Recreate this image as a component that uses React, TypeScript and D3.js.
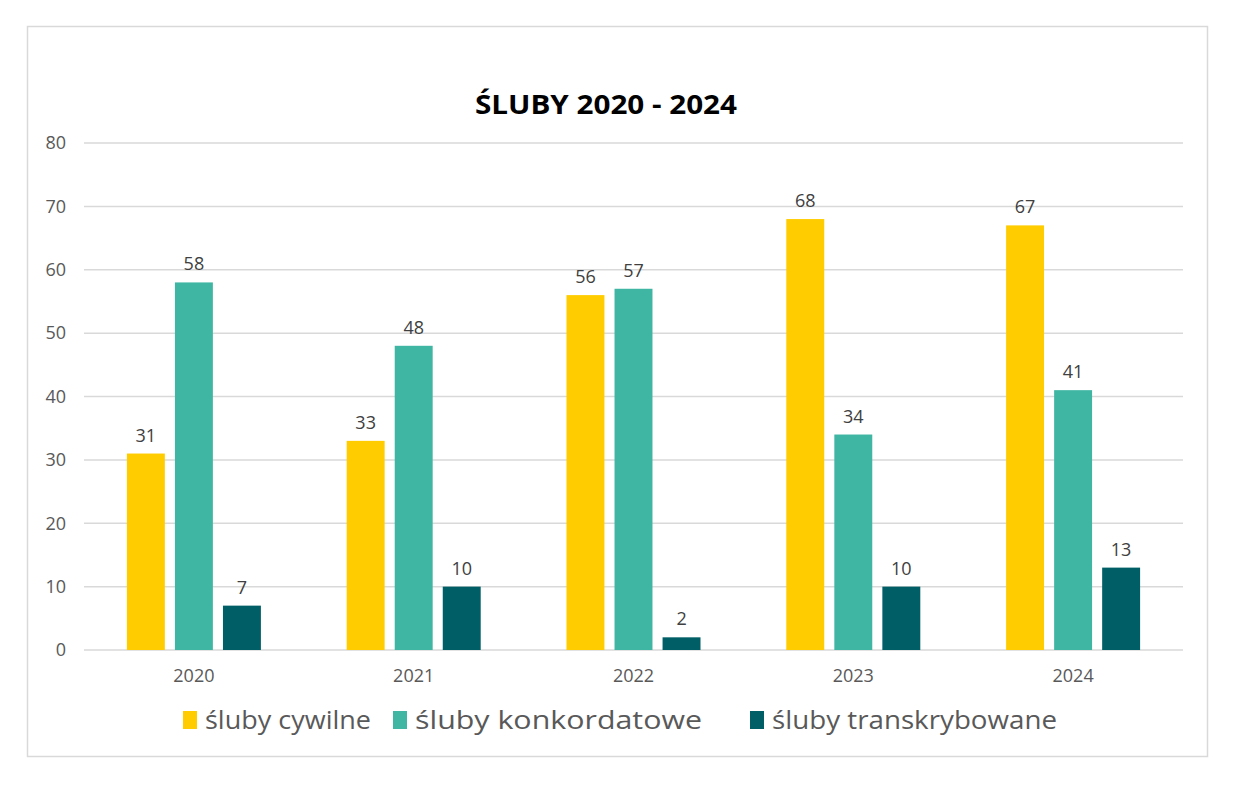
import * as d3 from "d3";
import { useEffect, useRef } from "react";

const years = ["2020", "2021", "2022", "2023", "2024"];
const seriesNames = ["śluby cywilne", "śluby konkordatowe", "śluby transkrybowane"];
const cywilne = [31, 33, 56, 68, 67];
const konkordatowe = [58, 48, 57, 34, 41];
const transkrybowane = [7, 10, 2, 10, 13];
const yTicks = [0, 10, 20, 30, 40, 50, 60, 70, 80];
const colors = ["#FFCC00", "#3FB6A3", "#005F66"];

export default function App() {
  const ref = useRef<SVGSVGElement>(null);

  useEffect(() => {
    if (!ref.current) return;
    const svg = d3.select(ref.current);
    svg.selectAll("*").remove();

    const width = 1236;
    const height = 786;
    const margin = { top: 143, right: 53, bottom: 136, left: 84 };
    const innerW = width - margin.left - margin.right;
    const innerH = height - margin.top - margin.bottom;
    const font = "'Open Sans', Lato, sans-serif";

    svg.attr("width", width).attr("height", height);

    // frame
    svg
      .append("rect")
      .attr("x", 27.5)
      .attr("y", 26.5)
      .attr("width", 1180)
      .attr("height", 730)
      .attr("fill", "#fff")
      .attr("stroke", "#d9d9d9")
      .attr("stroke-width", 1.5);

    svg
      .append("text")
      .attr("x", 606)
      .attr("y", 114)
      .attr("text-anchor", "middle")
      .attr("textLength", 262)
      .attr("lengthAdjust", "spacingAndGlyphs")
      .style("font-family", font)
      .style("font-weight", 700)
      .style("font-size", "27px")
      .attr("fill", "#000")
      .text("ŚLUBY 2020 - 2024");

    const g = svg.append("g").attr("transform", `translate(${margin.left},${margin.top})`);

    const x = d3.scaleBand().domain(years).range([0, innerW]).padding(0);
    const y = d3.scaleLinear().domain([0, 80]).range([innerH, 0]);
    const x1 = d3
      .scaleBand()
      .domain(seriesNames)
      .range([0, 134])
      .paddingInner(0.21);

    // grid
    g.selectAll("line.grid")
      .data(yTicks)
      .join("line")
      .attr("class", "grid")
      .attr("x1", 0)
      .attr("x2", innerW)
      .attr("y1", (d) => y(d))
      .attr("y2", (d) => y(d))
      .attr("stroke", "#d9d9d9")
      .attr("stroke-width", 1.5);

    g.selectAll("text.ytick")
      .data(yTicks)
      .join("text")
      .attr("class", "ytick")
      .attr("x", -18)
      .attr("y", (d) => y(d))
      .attr("dy", "0.35em")
      .attr("text-anchor", "end")
      .style("font-family", font)
      .style("font-size", "18px")
      .attr("fill", "#595959")
      .text((d) => d);

    const series = [cywilne, konkordatowe, transkrybowane];
    series.forEach((vals, si) => {
      const name = seriesNames[si];
      const rows = years.map((yr, i) => ({ yr, v: vals[i] }));
      const off = (x.bandwidth() - 134) / 2;
      g.selectAll(`rect.s${si}`)
        .data(rows)
        .join("rect")
        .attr("class", `s${si}`)
        .attr("x", (d) => (x(d.yr) ?? 0) + off + (x1(name) ?? 0))
        .attr("width", x1.bandwidth())
        .attr("y", (d) => y(d.v))
        .attr("height", (d) => innerH - y(d.v))
        .attr("fill", colors[si]);

      g.selectAll(`text.l${si}`)
        .data(rows)
        .join("text")
        .attr("class", `l${si}`)
        .attr("x", (d) => (x(d.yr) ?? 0) + off + (x1(name) ?? 0) + x1.bandwidth() / 2)
        .attr("y", (d) => y(d.v) - 12)
        .attr("text-anchor", "middle")
        .style("font-family", font)
        .style("font-size", "18px")
        .attr("fill", "#404040")
        .text((d) => d.v);
    });

    g.selectAll("text.xtick")
      .data(years)
      .join("text")
      .attr("class", "xtick")
      .attr("x", (d) => (x(d) ?? 0) + x.bandwidth() / 2)
      .attr("y", innerH + 32)
      .attr("text-anchor", "middle")
      .style("font-family", font)
      .style("font-size", "18px")
      .attr("fill", "#595959")
      .text((d) => d);

    // legend
    const legendX = [183, 393, 750];
    const legendW = [166, 287, 285];
    const lg = svg.append("g");
    seriesNames.forEach((name, i) => {
      lg.append("rect")
        .attr("x", legendX[i])
        .attr("y", 711)
        .attr("width", 14)
        .attr("height", 18)
        .attr("fill", colors[i]);
      lg.append("text")
        .attr("x", legendX[i] + 22)
        .attr("y", 729)
        .attr("textLength", legendW[i])
        .attr("lengthAdjust", "spacingAndGlyphs")
        .style("font-family", font)
        .style("font-size", "26px")
        .attr("fill", "#595959")
        .text(name);
    });
  }, []);

  return <svg ref={ref} style={{ position: "absolute", left: 0, top: 0 }} />;
}
